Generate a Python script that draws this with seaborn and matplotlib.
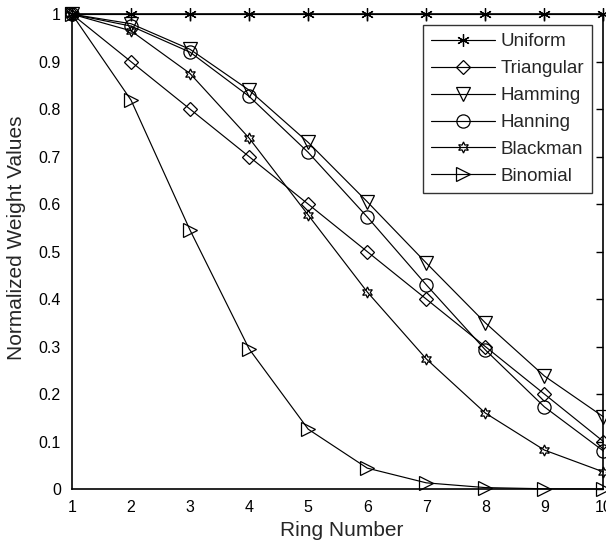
import numpy as np
import pandas as pd
import matplotlib
matplotlib.use("Agg")
import matplotlib.pyplot as plt
import seaborn as sns

ring = [1, 2, 3, 4, 5, 6, 7, 8, 9, 10]
uniform = [1, 1, 1, 1, 1, 1, 1, 1, 1, 1]
triangular = [1.0, 0.9, 0.8, 0.7, 0.6, 0.5, 0.4, 0.3, 0.2, 0.1]
hamming = [1.0, 0.98, 0.926, 0.84, 0.73, 0.605, 0.476, 0.35, 0.238, 0.152]
hanning = [1.0, 0.975, 0.92, 0.827, 0.709, 0.573, 0.43, 0.293, 0.173, 0.08]
blackman = [1.0, 0.965, 0.875, 0.739, 0.577, 0.415, 0.274, 0.16, 0.082, 0.036]
binomial = [1.0, 0.819, 0.545, 0.295, 0.126, 0.044, 0.013, 0.003, 0.0005, 0.0]

series_names = ["Uniform", "Triangular", "Hamming", "Hanning", "Blackman", "Binomial"]
series_values = [uniform, triangular, hamming, hanning, blackman, binomial]

ytick_vals = [0, 0.1, 0.2, 0.3, 0.4, 0.5, 0.6, 0.7, 0.8, 0.9, 1]
ytick_labels = ["0", "0.1", "0.2", "0.3", "0.4", "0.5", "0.6", "0.7", "0.8", "0.9", "1"]

df = pd.DataFrame({
    "Ring": np.tile(ring, len(series_names)),
    "Weight": np.concatenate(series_values),
    "Window": np.repeat(series_names, len(ring)),
})

sns.set_style("white")
plt.rcParams["font.family"] = ["Liberation Sans", "DejaVu Sans"]

fig = plt.figure(figsize=(6.06, 5.47), dpi=100)
ax = fig.add_axes([0.1188, 0.106, 0.877, 0.868])

markers = {
    "Uniform": ((6, 2, 0), 9),
    "Triangular": ("D", 7.5),
    "Hamming": ("v", 10),
    "Hanning": ("o", 9.5),
    "Blackman": ((6, 1, 0), 8),
    "Binomial": (">", 10),
}

for name in series_names:
    sub = df[df["Window"] == name]
    m, ms = markers[name]
    sns.lineplot(data=sub, x="Ring", y="Weight", ax=ax, color="black",
                 linewidth=0.85, marker=m, markersize=ms,
                 markerfacecolor="none", markeredgecolor="black",
                 markeredgewidth=0.9, label=name, clip_on=False, zorder=3)

ax.set_xlim(1, 10)
ax.set_ylim(0, 1)
ax.set_xticks(ring)
ax.set_xticklabels([str(r) for r in ring])
ax.set_yticks(ytick_vals)
ax.set_yticklabels(ytick_labels)
ax.tick_params(direction="in", length=5, width=1, top=True, right=True,
               labelsize=11.5, colors="black")
ax.tick_params(axis="x", pad=8)
ax.tick_params(axis="y", pad=8)
for s in ax.spines.values():
    s.set_color("black")
    s.set_linewidth(1.2)

ax.set_xlabel("Ring Number", fontsize=15)
ax.set_ylabel("Normalized Weight Values", fontsize=15)
ax.xaxis.set_label_coords(0.5 + (342 - 338) / 532, -0.068)
ax.yaxis.set_label_coords(-0.087, 0.5 - (238 - 251.5) / 475)

leg = ax.legend(loc="upper right", fontsize=13.5,
                frameon=True, fancybox=False, edgecolor="black",
                handlelength=3.4, handletextpad=0.3, labelspacing=0.52,
                borderpad=0.42, borderaxespad=0.6)
leg.get_frame().set_linewidth(1.0)

fig.savefig("out.png", dpi=100)
